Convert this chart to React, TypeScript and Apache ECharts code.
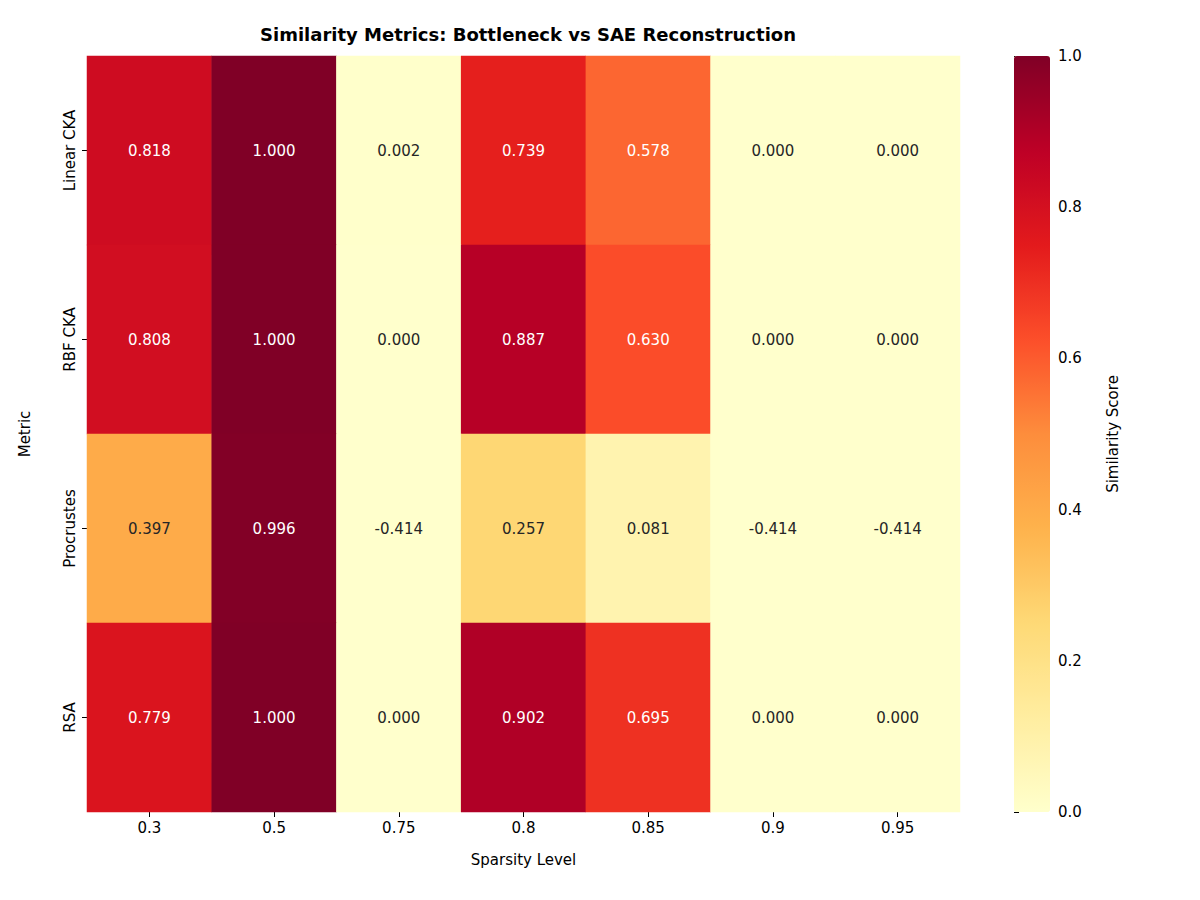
import React, { useRef, useEffect } from "react";
import * as echarts from "echarts";

const sparsity = ["0.3", "0.5", "0.75", "0.8", "0.85", "0.9", "0.95"];
const metrics = ["Linear CKA", "RBF CKA", "Procrustes", "RSA"];
const linearCka = [0.818, 1.0, 0.002, 0.739, 0.578, 0.0, 0.0];
const rbfCka = [0.808, 1.0, 0.0, 0.887, 0.63, 0.0, 0.0];
const procrustes = [0.397, 0.996, -0.414, 0.257, 0.081, -0.414, -0.414];
const rsa = [0.779, 1.0, 0.0, 0.902, 0.695, 0.0, 0.0];
const colorbarTicks = [0, 0.2, 0.4, 0.6, 0.8, 1.0];

const ylOrRd = ["#ffffcc", "#ffeda0", "#fed976", "#feb24c", "#fd8d3c", "#fc4e2a", "#e31a1c", "#bd0026", "#800026"];
const font = "DejaVu Sans";

const App: React.FC = () => {
	const chartRef = useRef<HTMLDivElement | null>(null);

	useEffect(() => {
		if (!chartRef.current) return;
		const chart = echarts.init(chartRef.current, undefined, { renderer: "svg" });

		const rows = [linearCka, rbfCka, procrustes, rsa];
		const data: any[] = [];
		rows.forEach((row, y) => {
			row.forEach((v, x) => {
				data.push({
					value: [x, y, v],
					label: { color: v > 0.5 ? "#ffffff" : "#262626" },
				});
			});
		});

		chart.setOption({
			animation: false,
			textStyle: { fontFamily: font },
			title: {
				text: "Similarity Metrics: Bottleneck vs SAE Reconstruction",
				left: 523,
				top: 20,
				textAlign: "center",
				textStyle: { fontFamily: font, fontSize: 18, fontWeight: "bold", color: "#000" },
			},
			grid: [
				{ left: 87, right: 240, top: 56, bottom: 88 },
				{ left: 1014, width: 36, top: 56, bottom: 88 },
			],
			xAxis: [
				{
					type: "category",
					data: sparsity,
					name: "Sparsity Level",
					nameLocation: "middle",
					nameGap: 40,
					nameTextStyle: { fontSize: 15, color: "#000" },
					axisLine: { show: false },
					axisTick: { show: true, alignWithLabel: true, length: 5, lineStyle: { color: "#000" } },
					axisLabel: { fontSize: 15, color: "#000" },
					splitArea: { show: false },
				},
				{ type: "value", gridIndex: 1, show: false, min: 0, max: 1 },
			],
			yAxis: [
				{
					type: "category",
					data: metrics,
					inverse: true,
					name: "Metric",
					nameLocation: "middle",
					nameGap: 55,
					nameRotate: 90,
					nameTextStyle: { fontSize: 15, color: "#000" },
					axisLine: { show: false },
					axisTick: { show: true, alignWithLabel: true, length: 5, lineStyle: { color: "#000" } },
					axisLabel: { fontSize: 15, color: "#000", rotate: 90, margin: 10 },
				},
				{
					type: "value",
					gridIndex: 1,
					position: "right",
					min: 0,
					max: 1,
					interval: 0.2,
					name: "Similarity Score",
					nameLocation: "middle",
					nameGap: 55,
					nameRotate: 90,
					nameTextStyle: { fontSize: 15, color: "#000" },
					axisLine: { show: false },
					axisTick: { show: true, length: 5, lineStyle: { color: "#000" } },
					axisLabel: { fontSize: 15, color: "#000", formatter: (v: number) => v.toFixed(1) },
					splitLine: { show: false },
				},
			],
			visualMap: {
				type: "continuous",
				min: 0,
				max: 1,
				seriesIndex: 0,
				left: 1014,
				top: 56,
				itemWidth: 36,
				itemHeight: 756,
				padding: 0,
				calculable: false,
				text: ["", ""],
				showLabel: false,
				inRange: { color: ylOrRd },
				outOfRange: { color: ["#ffffcc"] },
			},
			series: [
				{
					type: "heatmap",
					data: data.map((d) => ({ ...d, value: [d.value[0], d.value[1], Math.max(0, d.value[2])], raw: d.value[2] })),
					label: {
						show: true,
						fontSize: 15,
						fontFamily: font,
						formatter: (p: any) => p.data.raw.toFixed(3),
					},
					itemStyle: { borderWidth: 0 },
					emphasis: { disabled: true },
				},
				{ type: "scatter", xAxisIndex: 1, yAxisIndex: 1, data: [] },
			],
		});

		return () => {
			chart.dispose();
		};
	}, []);

	return <div ref={chartRef} style={{ width: "1200px", height: "900px", margin: "-8px" }} />;
};

export default App;
